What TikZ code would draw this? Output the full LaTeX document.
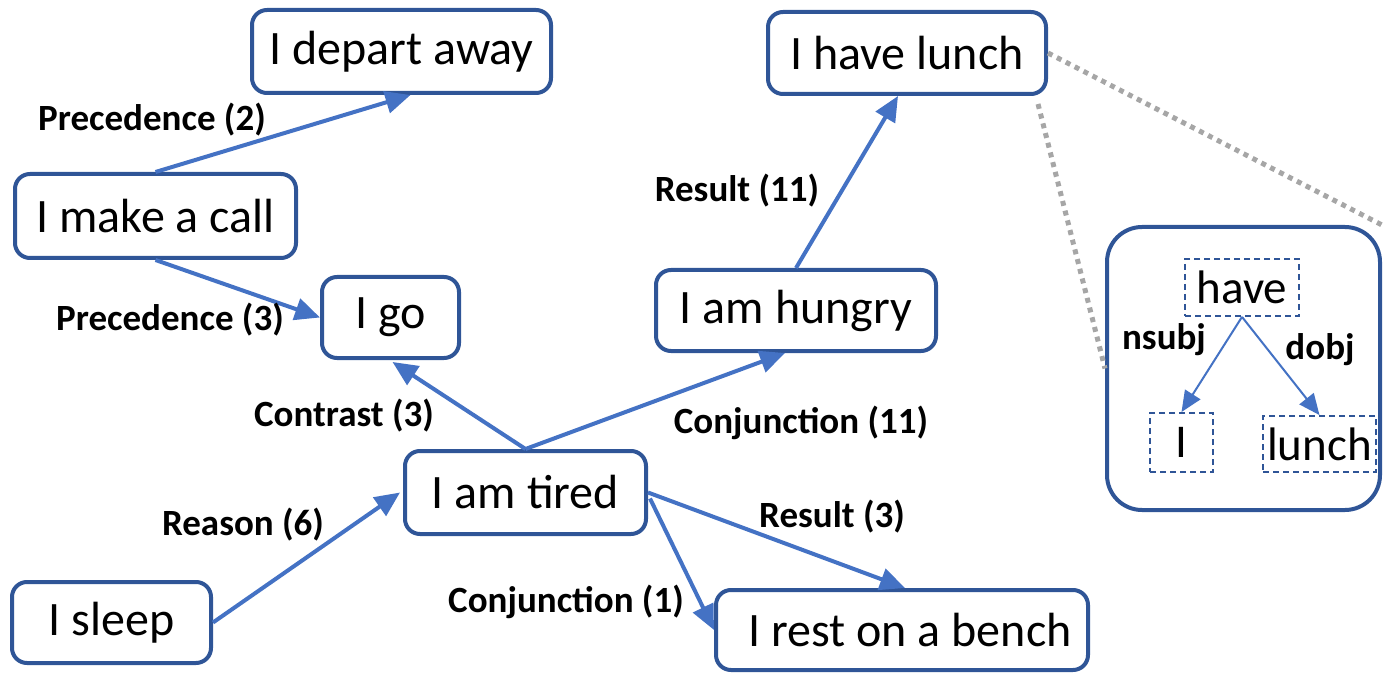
\documentclass[tikz,border=0pt]{standalone}
\usepackage{fontspec}
\setmainfont{Carlito}
\usetikzlibrary{arrows.meta,calc}
\definecolor{boxblue}{HTML}{2F5597}
\definecolor{arrblue}{HTML}{4472C4}
\definecolor{dotgray}{HTML}{A6A6A6}
\tikzset{
  evbox/.style={draw=boxblue, line width=4pt, rounded corners=15pt, fill=white,
    inner sep=0pt, font=\fontsize{48}{52}\selectfont},
  wordbox/.style={draw=boxblue, line width=1.8pt, dash pattern=on 6pt off 4pt,
    inner sep=0pt, font=\fontsize{47}{52}\selectfont},
  rel/.style={draw=arrblue, line width=4pt, -{Triangle[length=25pt,width=22pt]}},
  deprel/.style={draw=arrblue, line width=2pt, -{Triangle[length=21pt,width=18pt]}},
  lbl/.style={font=\fontsize{37}{40}\selectfont\bfseries, inner sep=0pt},
  zoomline/.style={draw=dotgray, line width=5pt, dash pattern=on 5pt off 5pt}
}
\begin{document}
\begin{tikzpicture}[x=1pt,y=-1pt]
\useasboundingbox (0,0) rectangle (1384,676);
% event nodes
\node[evbox, minimum width=299pt, minimum height=83pt] (depart) at (401.5,51.5) {I depart away};
\node[evbox, minimum width=281pt, minimum height=84pt] (call) at (155.5,216) {I make a call};
\node[evbox, minimum width=137pt, minimum height=81pt] (go) at (390.5,317.5) {I go};
\node[evbox, minimum width=278pt, minimum height=82pt] (lunch) at (907,53) {I have lunch};
\node[evbox, minimum width=280pt, minimum height=81pt] (hungry) at (796,310.5) {I am hungry};
\node[evbox, minimum width=241pt, minimum height=83pt] (tired) at (525.5,492.5) {I am tired};
\node[evbox, minimum width=199pt, minimum height=81pt] (sleep) at (111.5,622.5) {I sleep};
\node[evbox, minimum width=372pt, minimum height=80pt] (rest) at (902,630) {\hspace*{16pt}I rest on a bench};
% inset
\node[evbox, rounded corners=35pt, minimum width=273pt, minimum height=283pt] (inset) at (1243.5,368.5) {};
\node[wordbox, minimum width=114pt, minimum height=57pt] (have) at (1242,287.5) {have};
\node[wordbox, minimum width=63pt, minimum height=59pt] (wi) at (1181.5,442.5) {I};
\node[wordbox, minimum width=113pt, minimum height=56pt] (wlunch) at (1319.5,444) {lunch};
% zoom lines
\draw[zoomline] (lunch.east) -- (inset.north east);
\draw[zoomline] ($(lunch.south east)+(-10,8)$) -- (inset.west);
% relations
\draw[rel] (call.north) -- ($(depart.south)+(9,0)$);
\draw[rel] (call.south) -- (go.west);
\draw[rel] (tired.north) -- ($(go.south)+(2,2)$);
\draw[rel] (tired.north) -- ($(hungry.south)+(-11,0)$);
\draw[rel] (hungry.north) -- ($(lunch.south)+(-9,0)$);
\draw[rel] (sleep.east) -- ($(tired.west)+(-3,0)$);
\draw[rel] (tired.east) -- ($(rest.north)+(3,0)$);
\draw[rel] ($(tired.east)+(2,6)$) -- (rest.west);
\draw[deprel] (have.south) -- (wi.north);
\draw[deprel] (have.south) -- (wlunch.north);
% labels
\node[lbl] (l1) at (152,120) {Precedence (2)};
\node[lbl] (l2) at (170,320) {Precedence (3)};
\node[lbl] (l3) at (344,416) {Contrast (3)};
\node[lbl] (l4) at (801,423) {Conjunction (11)};
\node[lbl] (l5) at (737,191) {Result (11)};
\node[lbl] (l6) at (243,525) {Reason (6)};
\node[lbl] (l7) at (832,517) {Result (3)};
\node[lbl] (l8) at (566,602) {Conjunction (1)};
\node[lbl] (l9) at (1164,340) {nsubj};
\node[lbl] (l10) at (1320,350) {dobj};
\end{tikzpicture}
\end{document}
